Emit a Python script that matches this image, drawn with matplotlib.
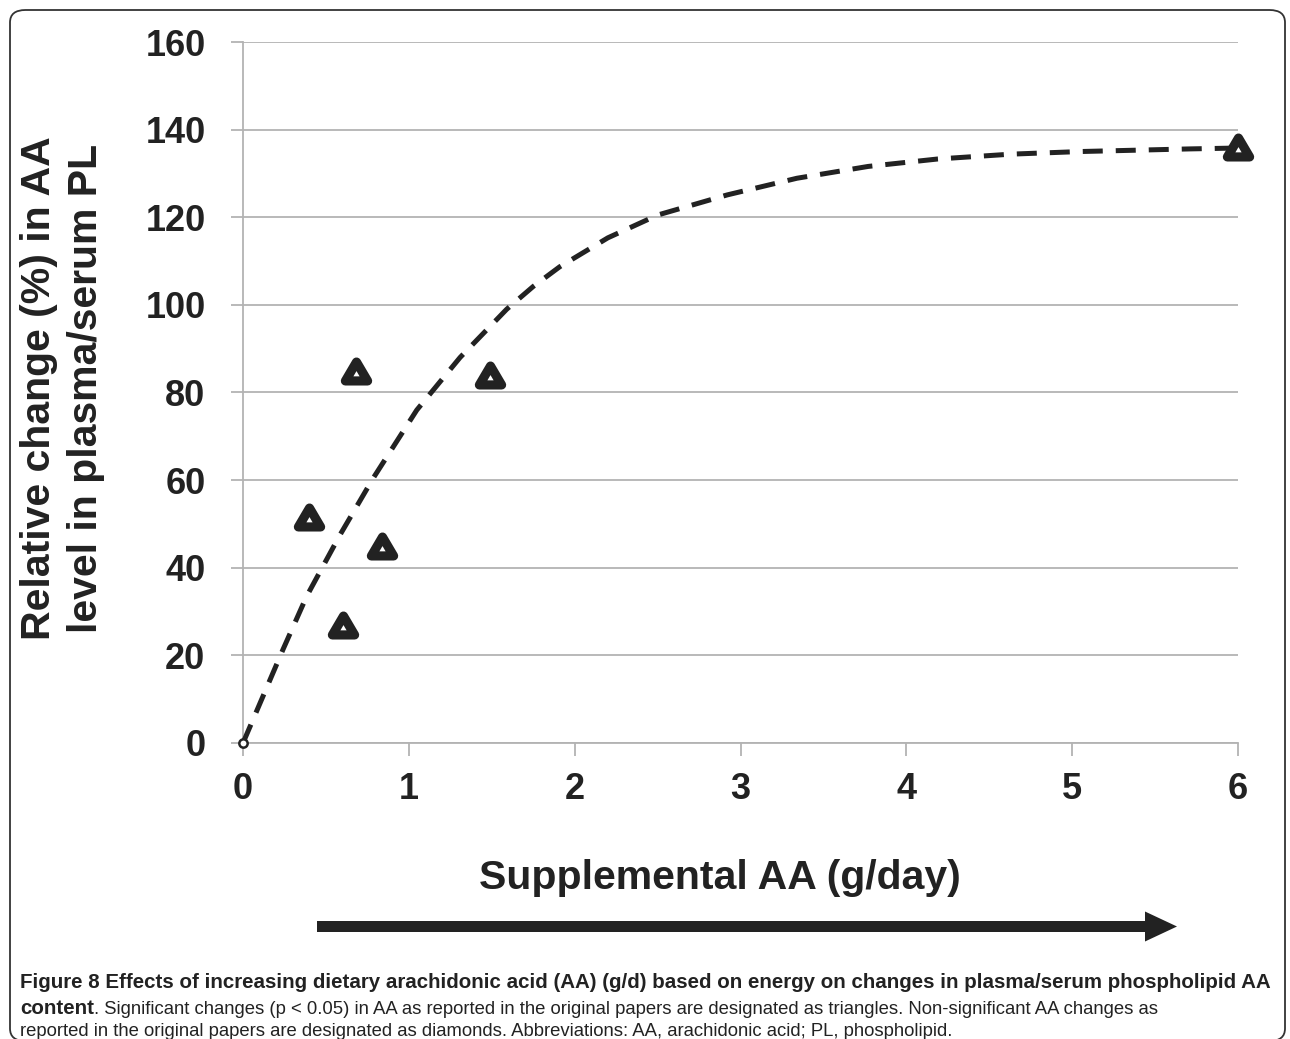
import matplotlib
matplotlib.use("Agg")
import matplotlib.pyplot as plt
from matplotlib.path import Path
from matplotlib.markers import MarkerStyle
from matplotlib.patches import FancyBboxPatch, FancyArrow

# ---- data ----
x_sig = [0.40, 0.60, 0.68, 0.84, 1.49, 6.0]
y_sig = [51.5, 27.0, 85.0, 45.0, 84.0, 136.0]

curve_x = [0.0, 0.243, 0.384, 0.585, 0.786, 1.048, 1.309, 1.59, 1.75, 1.91,
           2.2, 2.5, 2.92, 3.34, 3.77, 4.19, 4.63, 5.05, 5.71, 6.0]
curve_y = [0.0, 21.5, 33.5, 47.5, 60.5, 76.0, 88.0, 99.0, 104.2, 108.7,
           115.3, 120.5, 125.1, 128.9, 131.6, 133.3, 134.4, 135.0, 135.6, 135.8]

x_ticks = [0, 1, 2, 3, 4, 5, 6]
y_ticks = [0, 20, 40, 60, 80, 100, 120, 140, 160]

W, H = 1290, 1039
fig = plt.figure(figsize=(W / 100, H / 100), dpi=100)
ax = fig.add_axes([243 / W, 1 - 743 / H, (1238 - 243) / W, (743 - 42) / H])

dark = "#222222"
grey = "#b3b3b3"
bold_font = ["Liberation Sans", "DejaVu Sans"]

ax.set_xlim(0, 6)
ax.set_ylim(0, 160)
ax.set_xticks(x_ticks)
ax.set_yticks(y_ticks)
ax.set_xticklabels([str(v) for v in x_ticks], fontsize=26, fontweight="bold",
                   family=bold_font, color=dark)
ax.set_yticklabels([str(v) for v in y_ticks], fontsize=26, fontweight="bold",
                   family=bold_font, color=dark)
ax.tick_params(axis="both", colors=grey, width=1.3, length=9, labelcolor=dark)
ax.tick_params(axis="y", pad=18)
ax.tick_params(axis="x", pad=12)
for s in ["top", "right"]:
    ax.spines[s].set_visible(False)
for s in ["left", "bottom"]:
    ax.spines[s].set_color(grey)
    ax.spines[s].set_linewidth(1.3)
ax.grid(axis="y", color=grey, linewidth=1.3)
ax.set_axisbelow(True)

# trend curve
ax.plot(curve_x, curve_y, color=dark, linewidth=3.6, dashes=(4.0, 2.6),
        dash_capstyle="butt", dash_joinstyle="round", zorder=3, clip_on=False)
ax.plot([0], [0], marker="o", markersize=6, markerfacecolor="white",
        markeredgecolor=dark, markeredgewidth=1.8, zorder=4, clip_on=False)

# triangles
tri = Path([(-1, -0.85), (1, -0.85), (0, 0.85), (-1, -0.85)],
           [Path.MOVETO, Path.LINETO, Path.LINETO, Path.CLOSEPOLY])
mk = MarkerStyle(tri, joinstyle="round")
ax.plot(x_sig, y_sig, linestyle="none", marker=mk, markersize=16,
        markerfacecolor="white", markeredgecolor=dark, markeredgewidth=6.6,
        zorder=5, clip_on=False)

# axis labels
fig.text(720 / W, 1 - 878 / H, "Supplemental AA (g/day)", ha="center",
         va="center", fontsize=29.5, fontweight="bold", family=bold_font, color=dark)
fig.text(63 / W, 1 - 388 / H, "Relative change (%) in AA\nlevel in plasma/serum PL",
         ha="center", va="center", rotation=90, fontsize=29.5, fontweight="bold",
         family=bold_font, color=dark, linespacing=1.3, multialignment="center")

# arrow
fig.add_artist(FancyArrow(317 / W, 1 - 926.5 / H, (1177 - 317) / W, 0,
                          width=11 / H, head_width=30 / H, head_length=32 / W,
                          length_includes_head=True, transform=fig.transFigure,
                          color=dark, linewidth=0))

# caption
cap_font = ["Liberation Sans", "DejaVu Sans"]
cb = 14.8
cr = 13.3
t1 = fig.text(20 / W, 1 - 983 / H,
              "Figure 8 Effects of increasing dietary arachidonic acid (AA) (g/d) based on energy on changes in plasma/serum phospholipid AA",
              ha="left", va="center", fontsize=cb, fontweight="bold",
              family=cap_font, color=dark)
t2 = fig.text(20 / W, 1 - 1008 / H, "content", ha="left", va="center",
              fontsize=cb, fontweight="bold", family=cap_font, color=dark)
ax.annotate(". Significant changes (p < 0.05) in AA as reported in the original papers are designated as triangles. Non-significant AA changes as",
            xy=(1, 0), xycoords=t2, va="bottom", ha="left", fontsize=cr,
            family=cap_font, color=dark, annotation_clip=False)
fig.text(20 / W, 1 - 1031 / H,
         "reported in the original papers are designated as diamonds. Abbreviations: AA, arachidonic acid; PL, phospholipid.",
         ha="left", va="center", fontsize=cr, family=cap_font, color=dark)

# frame
fig.add_artist(FancyBboxPatch((10 / W, 1 - 1041 / H), (1285 - 10) / W, (1041 - 10) / H,
                              boxstyle="round,pad=0,rounding_size=0.012",
                              transform=fig.transFigure, facecolor="none",
                              edgecolor="#333333", linewidth=1.3))

fig.savefig("out.png", dpi=100)
